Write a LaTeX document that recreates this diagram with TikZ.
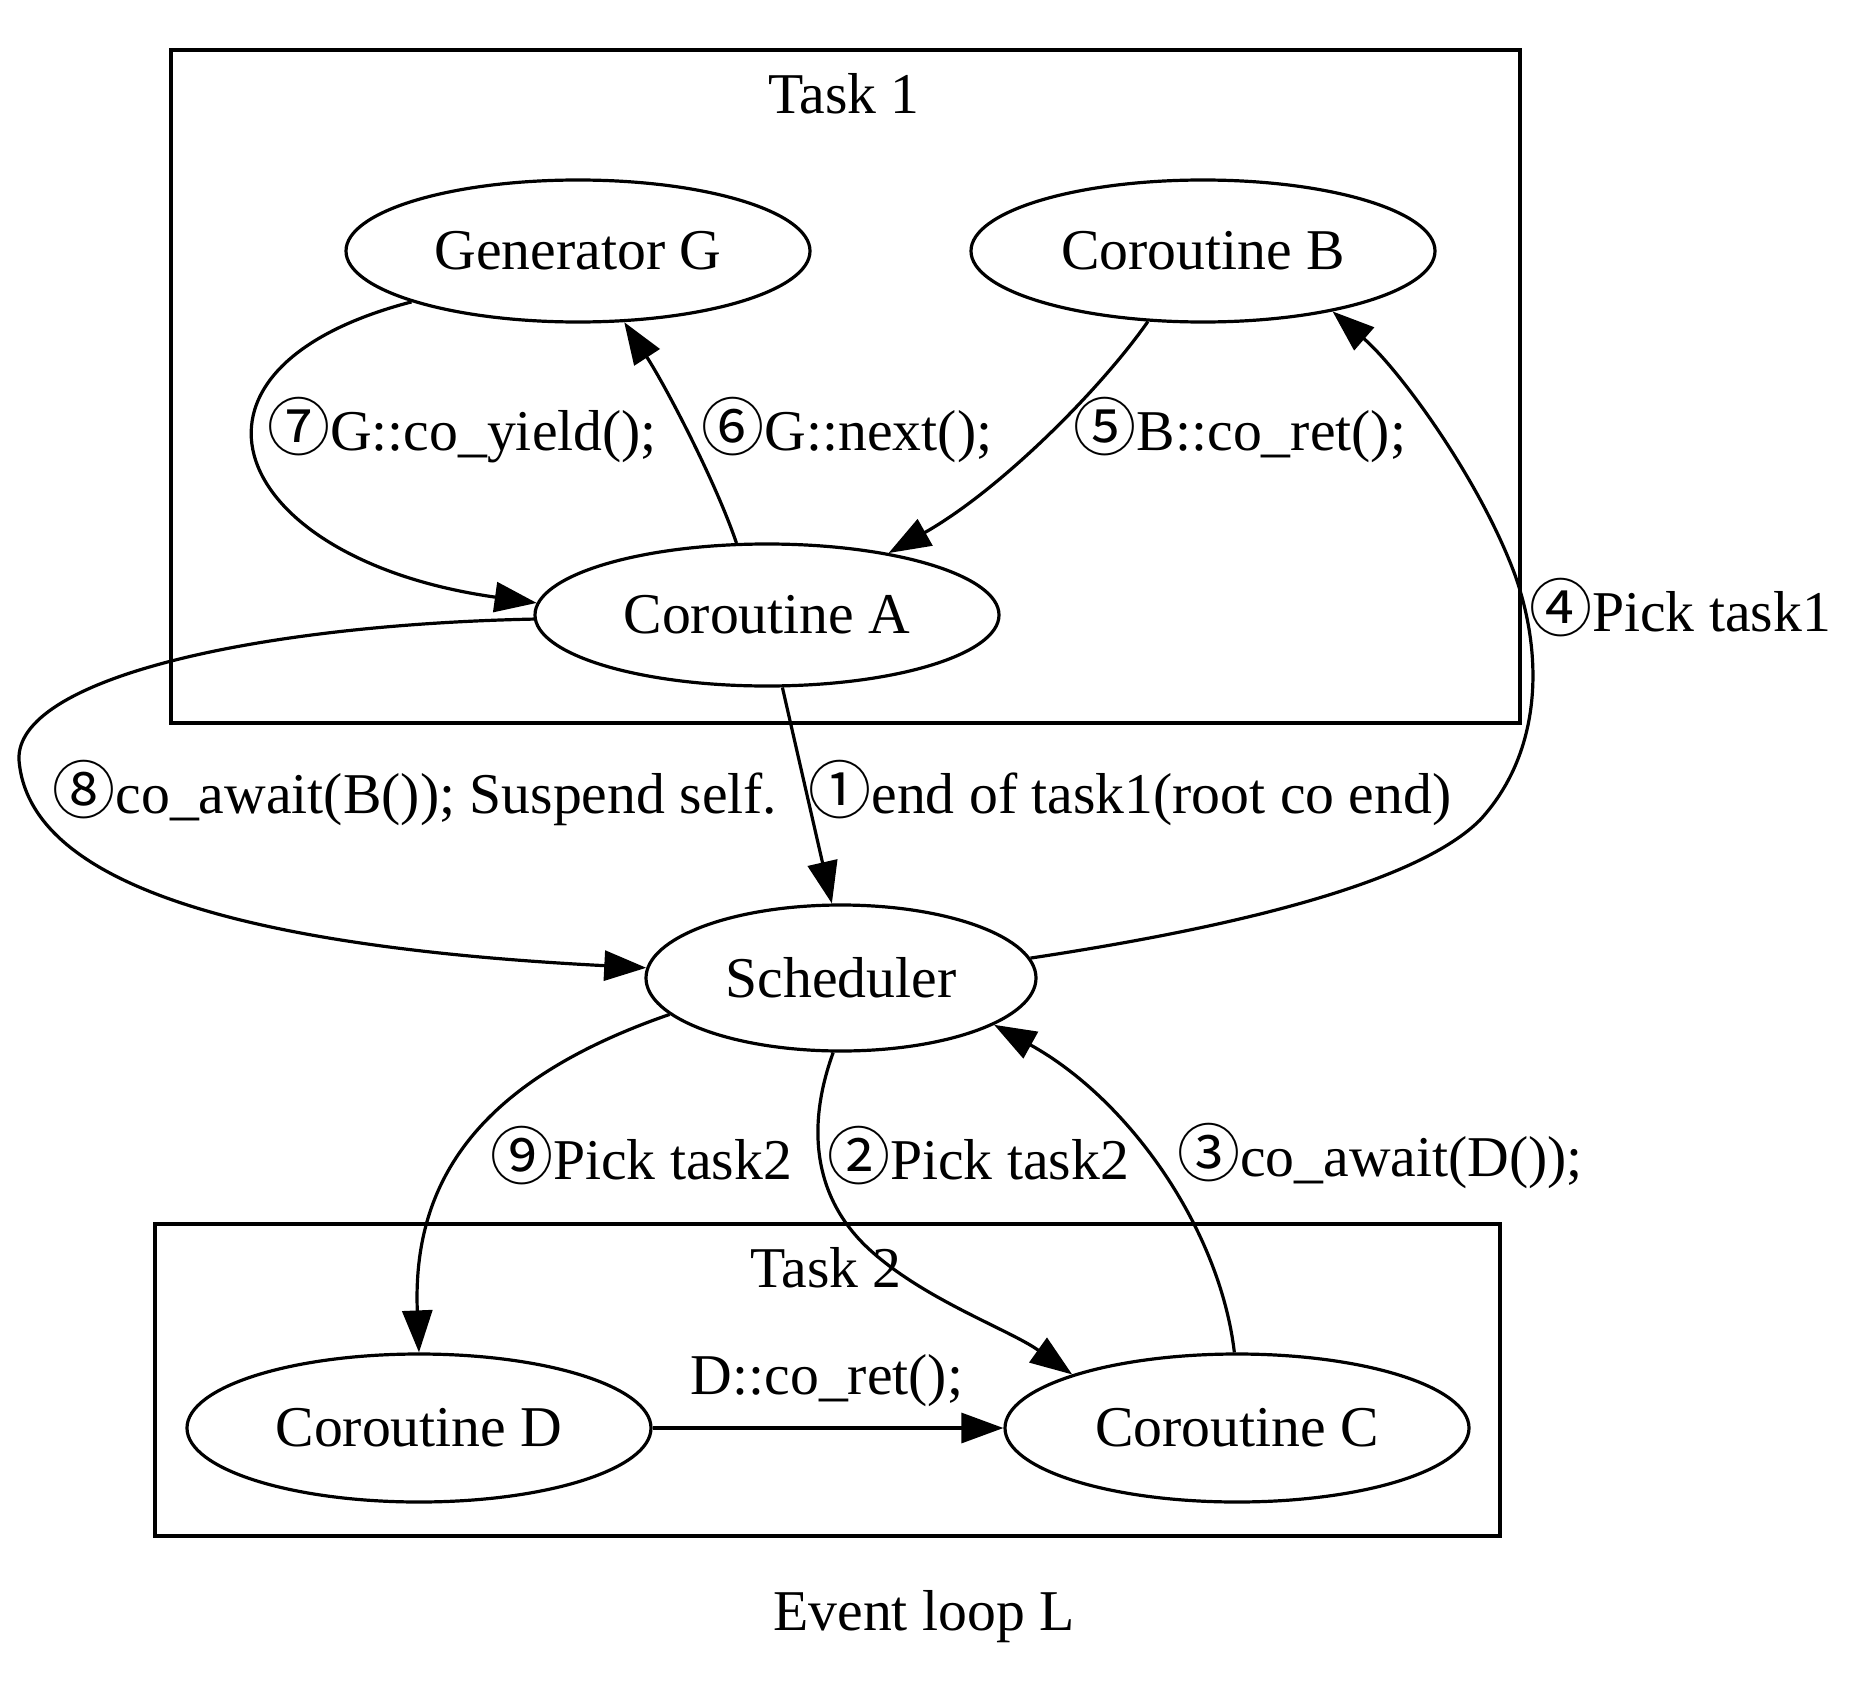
\documentclass[tikz,border=0pt]{standalone}
\usepackage{fontspec}
\setmainfont{Liberation Serif}
\newfontfamily\circfont{Noto Sans CJK SC}
\usetikzlibrary{arrows.meta,shapes.geometric}
\newcommand\cnum[1]{{\circfont\fontsize{63}{62}\selectfont #1}}
\begin{document}
\begin{tikzpicture}[x=1pt,y=-1pt,
  every node/.style={font=\fontsize{57.7}{62}\selectfont, inner sep=0pt},
  nd/.style={draw, ellipse, line width=3.2pt, minimum width=464pt, minimum height=142pt},
  cluster/.style={draw, line width=3.2pt, rectangle},
  e/.style={line width=3.2pt, -{Triangle[length=42pt,width=30pt]}}]
\useasboundingbox (0,0) rectangle (1850,1683);
% clusters
\node[cluster, minimum width=1349pt, minimum height=673pt] (task1) at (845.5,386.5) {};
\node (t1) at (844,94) {Task 1};
\node[cluster, minimum width=1345pt, minimum height=312pt] (task2) at (827.5,1380) {};
\node (t2) at (826,1268) {Task 2};
% nodes
\node[nd] (G) at (578,251) {Generator G};
\node[nd] (B) at (1203,251) {Coroutine B};
\node[nd] (A) at (767,615) {Coroutine A};
\node[nd, minimum width=390pt, minimum height=146pt] (S) at (841,978) {Scheduler};
\node[nd, minimum height=148pt] (D) at (419,1428) {Coroutine D};
\node[nd, minimum height=148pt] (C) at (1237,1428) {Coroutine C};
\node (title) at (924,1617) {Event loop L};
% edges
\draw[e] (A.-78) -- (S.97);
\draw[e] (S.-96) .. controls (805,1130) and (815,1200) .. (870,1250)
  .. controls (925,1300) and (1010,1330) .. (C.162);
\draw[e] (C.92) .. controls (1220,1230) and (1130,1100) .. (S.-17);
\draw[e] (S.6) .. controls (1250,925) and (1420,880) .. (1480,820)
  .. controls (1540,755) and (1545,660) .. (1515,575)
  .. controls (1480,480) and (1400,370) .. (B.-25);
\draw[e] (B.-128) .. controls (1100,390) and (1000,490) .. (A.27);
\draw[e] (A.113) .. controls (715,480) and (665,385) .. (G.-57);
\draw[e] (G.197) .. controls (150,370) and (230,560) .. (A.177);
\draw[e] (A.181) .. controls (250,625) and (15,680) .. (19,760)
  .. controls (30,900) and (300,950) .. (S.177);
\draw[e] (S.-168) .. controls (480,1080) and (412,1180) .. (D.90);
\draw[e] (D) -- (C);
% labels
\node (l1) at (1130,793) {\cnum{①}end of task1(root co end)};
\node (l2) at (978,1156) {\cnum{②}Pick task2};
\node (l3) at (1380,1156) {\cnum{③}co\_await(D());};
\node (l4) at (1680,608) {\cnum{④}Pick task1};
\node (l5) at (1240,430) {\cnum{⑤}B::co\_ret();};
\node (l6) at (847,430) {\cnum{⑥}G::next();};
\node (l7) at (462,430) {\cnum{⑦}G::co\_yield();};
\node (l8) at (415,793) {\cnum{⑧}co\_await(B()); Suspend self.};
\node (l9) at (641,1156) {\cnum{⑨}Pick task2};
\node (ldc) at (827,1381) {D::co\_ret();};
\end{tikzpicture}
\end{document}
